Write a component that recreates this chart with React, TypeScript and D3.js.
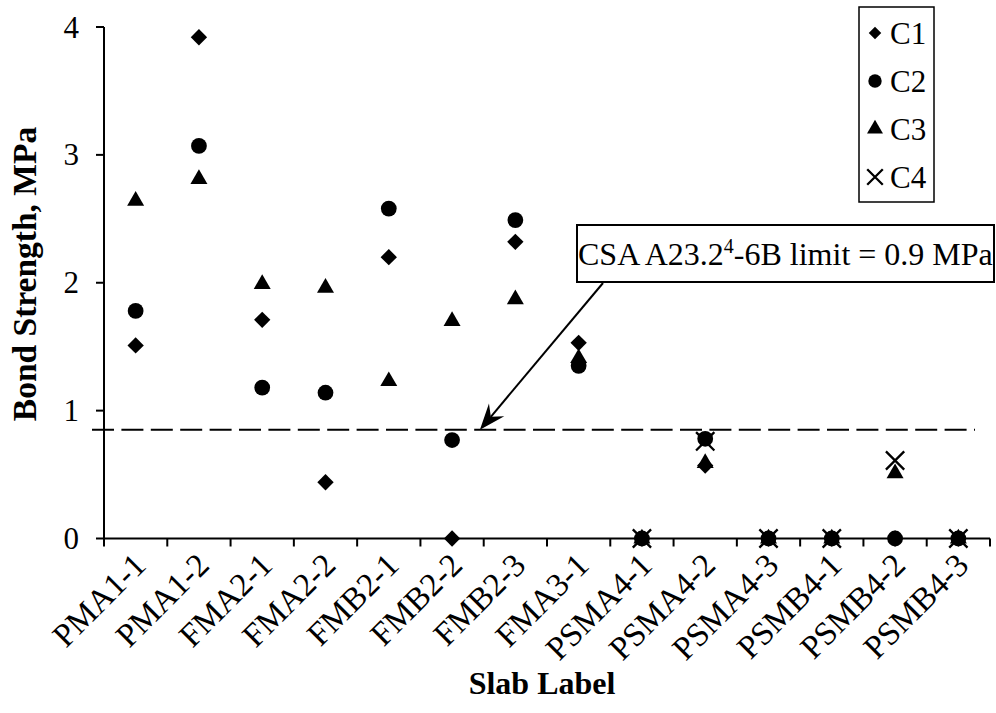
import * as React from "react";
import * as d3 from "d3";

// slab labels along the x axis
const categories = [
  "PMA1-1", "PMA1-2", "FMA2-1", "FMA2-2", "FMB2-1", "FMB2-2", "FMB2-3",
  "FMA3-1", "PSMA4-1", "PSMA4-2", "PSMA4-3", "PSMB4-1", "PSMB4-2", "PSMB4-3",
];

// bond strength per core, MPa (null = no core)
const c1 = [1.51, 3.92, 1.71, 0.44, 2.2, 0, 2.32, 1.53, 0, 0.57, 0, 0, 0, 0];
const c2 = [1.78, 3.07, 1.18, 1.14, 2.58, 0.77, 2.49, 1.35, 0, 0.78, 0, 0, 0, 0];
const c3 = [2.64, 2.81, 1.99, 1.96, 1.23, 1.7, 1.87, 1.41, 0, 0.59, 0, 0, 0.51, 0];
const c4 = [null, null, null, null, null, null, null, null, 0, 0.76, 0, 0, 0.61, 0];

const yTicks = [0, 1, 2, 3, 4];
const limitValue = 0.85;
const seriesNames = ["C1", "C2", "C3", "C4"];

const FONT = "'Liberation Serif', 'Times New Roman', serif";

const width = 996;
const height = 713;

const x = d3.scaleBand().domain(categories).range([104, 990]).padding(0);
const y = d3.scaleLinear().domain([0, 4]).range([538.5, 27]);

// marker shapes
const shapes = [
  d3.symbol().type(d3.symbolDiamond2).size(170),
  d3.symbol().type(d3.symbolCircle).size(195),
  d3.symbol().type(d3.symbolTriangle).size(125),
  d3.symbol().type(d3.symbolTimes).size(220),
];
const legendShapes = [
  d3.symbol().type(d3.symbolDiamond2).size(100),
  d3.symbol().type(d3.symbolCircle).size(140),
  d3.symbol().type(d3.symbolTriangle).size(110),
  d3.symbol().type(d3.symbolTimes).size(160),
];

const Marker = ({ idx, cx, cy, legend }) => {
  const gen = legend ? legendShapes[idx] : shapes[idx];
  const isX = idx === 3;
  return (
    <path
      d={gen()}
      transform={`translate(${cx},${cy})`}
      fill={isX ? "none" : "#000"}
      stroke={isX ? "#000" : "none"}
      strokeWidth={isX ? 2.3 : 0}
    />
  );
};

const App = () => {
  const series = [c1, c2, c3, c4];
  const bw = x.bandwidth();
  const cx = (c) => x(c) + bw / 2;

  // annotation arrow: from the label box down to the limit line
  const tip = [x("FMB2-2") + bw * 0.94, y(limitValue)];
  const tail = [603, 283];
  const len = Math.hypot(tail[0] - tip[0], tail[1] - tip[1]);
  const u = [(tail[0] - tip[0]) / len, (tail[1] - tip[1]) / len];
  const n = [u[1] * -1, u[0]];
  const head = [
    tip,
    [tip[0] + u[0] * 26 + n[0] * 10, tip[1] + u[1] * 26 + n[1] * 10],
    [tip[0] + u[0] * 17, tip[1] + u[1] * 17],
    [tip[0] + u[0] * 26 - n[0] * 10, tip[1] + u[1] * 26 - n[1] * 10],
  ];

  return (
    <svg
      width={width}
      height={height}
      style={{ position: "absolute", left: 0, top: 0, background: "#fff" }}
      fontFamily={FONT}
    >
      {/* limit line */}
      <line
        x1={92}
        x2={975}
        y1={y(limitValue)}
        y2={y(limitValue)}
        stroke="#000"
        strokeWidth={2}
        strokeDasharray="22 7.4"
      />

      {/* axes */}
      <line x1={104} x2={104} y1={y(4)} y2={y(0) + 8} stroke="#000" strokeWidth={2} />
      <line x1={104} x2={990} y1={y(0)} y2={y(0)} stroke="#000" strokeWidth={2} />
      {yTicks.map((t) => (
        <g key={t}>
          <line x1={96} x2={104} y1={y(t)} y2={y(t)} stroke="#000" strokeWidth={2} />
          <text x={79} y={y(t) + 10.5} textAnchor="end" fontSize={31}>
            {t}
          </text>
        </g>
      ))}
      {categories.map((c) => (
        <line key={c} x1={x(c) + bw} x2={x(c) + bw} y1={y(0)} y2={y(0) + 8} stroke="#000" strokeWidth={2} />
      ))}
      {categories.map((c) => (
        <text
          key={c}
          transform={`translate(${cx(c) + 12},${567}) rotate(-45)`}
          textAnchor="end"
          fontSize={33}
        >
          {c}
        </text>
      ))}

      <text x={542} y={694} textAnchor="middle" fontSize={32} fontWeight="bold">
        Slab Label
      </text>
      <text
        transform={`translate(36,274) rotate(-90)`}
        textAnchor="middle"
        fontSize={33.5}
        fontWeight="bold"
      >
        Bond Strength, MPa
      </text>

      {/* points */}
      {series.map((vals, si) => (
        <g key={si}>
          {vals.map((v, i) =>
            v == null ? null : <Marker key={i} idx={si} cx={cx(categories[i])} cy={y(v)} />
          )}
        </g>
      ))}

      {/* annotation */}
      <line x1={tail[0]} y1={tail[1]} x2={head[2][0]} y2={head[2][1]} stroke="#000" strokeWidth={2} />
      <path d={d3.line()(head) + "Z"} fill="#000" />
      <rect x={577} y={225} width={417} height={57} fill="#fff" stroke="#000" strokeWidth={2} />
      <text x={578} y={265} fontSize={32}>
        <tspan>CSA A23.2</tspan>
        <tspan dy={-12} fontSize={20}>4</tspan>
        <tspan dy={12}>-6B limit = 0.9 MPa</tspan>
      </text>

      {/* legend */}
      <rect x={859} y={7} width={75} height={195} fill="#fff" stroke="#000" strokeWidth={1.5} />
      {seriesNames.map((s, i) => (
        <g key={s}>
          <Marker idx={i} cx={875} cy={33 + i * 48} legend />
          <text x={890} y={44 + i * 48} fontSize={31}>
            {s}
          </text>
        </g>
      ))}
    </svg>
  );
};

export default App;
